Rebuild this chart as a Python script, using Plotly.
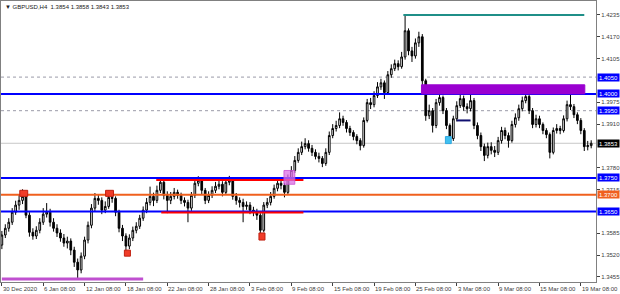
import plotly.graph_objects as go

# ---------------- data (GBPUSD H4, two H4 bars per candle) ----------------
first_open = 1.3550
closes = [
 1.3580,1.3600,1.3618,1.3648,1.3669,1.3683,1.3695,1.3639,1.3588,1.3577,
 1.3594,1.3618,1.3642,1.3648,1.3618,1.3600,1.3586,1.3571,1.3556,1.3562,
 1.3535,1.3499,1.3476,1.3517,1.3565,1.3609,1.3660,1.3689,1.3683,1.3654,
 1.3665,1.3692,1.3689,1.3648,1.3600,1.3577,1.3547,1.3571,1.3594,1.3606,
 1.3630,1.3654,1.3677,1.3695,1.3683,1.3713,1.3737,1.3698,1.3683,1.3695,
 1.3707,1.3698,1.3683,1.3677,1.3660,1.3698,1.3734,1.3743,1.3713,1.3683,
 1.3698,1.3713,1.3725,1.3731,1.3707,1.3737,1.3743,1.3695,1.3683,1.3677,
 1.3665,1.3669,1.3654,1.3648,1.3639,1.3594,1.3669,1.3677,1.3695,1.3719,
 1.3734,1.3728,1.3707,1.3749,1.3772,1.3802,1.3826,1.3843,1.3852,1.3838,
 1.3826,1.3814,1.3808,1.3793,1.3826,1.3876,1.3897,1.3906,1.3926,1.3915,
 1.3897,1.3885,1.3873,1.3861,1.3846,1.3921,1.3974,1.3968,1.3995,1.4021,
 1.4033,1.4004,1.4057,1.4075,1.4090,1.4081,1.4110,1.4188,1.4128,1.4113,
 1.4152,1.4170,1.4039,1.3935,1.3950,1.3906,1.3974,1.3989,1.3950,1.3906,
 1.3867,1.3926,1.3965,1.3986,1.3962,1.3956,1.3980,1.3906,1.3876,1.3843,
 1.3817,1.3843,1.3832,1.3826,1.3861,1.3891,1.3876,1.3861,1.3909,1.3929,
 1.3956,1.3980,1.3992,1.3950,1.3909,1.3926,1.3909,1.3891,1.3879,1.3826,
 1.3891,1.3897,1.3891,1.3926,1.3968,1.3962,1.3938,1.3921,1.3891,1.3843,
 1.3846,1.3853]
highs = [
 1.3592,1.3612,1.3630,1.3660,1.3682,1.3700,1.3716,1.3705,1.3648,1.3600,
 1.3606,1.3630,1.3660,1.3675,1.3658,1.3630,1.3612,1.3597,1.3583,1.3575,
 1.3570,1.3545,1.3510,1.3528,1.3575,1.3620,1.3672,1.3705,1.3700,1.3692,
 1.3680,1.3712,1.3706,1.3695,1.3655,1.3610,1.3585,1.3582,1.3605,1.3618,
 1.3640,1.3665,1.3690,1.3724,1.3706,1.3727,1.3752,1.3745,1.3710,1.3708,
 1.3720,1.3715,1.3706,1.3692,1.3685,1.3708,1.3745,1.3755,1.3750,1.3720,
 1.3710,1.3725,1.3738,1.3745,1.3740,1.3748,1.3756,1.3750,1.3705,1.3692,
 1.3688,1.3680,1.3678,1.3664,1.3658,1.3645,1.3678,1.3690,1.3708,1.3730,
 1.3745,1.3744,1.3735,1.3760,1.3785,1.3815,1.3838,1.3858,1.3868,1.3862,
 1.3848,1.3835,1.3825,1.3815,1.3838,1.3888,1.3910,1.3920,1.3945,1.3935,
 1.3922,1.3905,1.3892,1.3880,1.3868,1.3930,1.3985,1.3988,1.4008,1.4035,
 1.4045,1.4040,1.4068,1.4088,1.4102,1.4100,1.4125,1.4237,1.4195,1.4140,
 1.4165,1.4185,1.4178,1.4045,1.3968,1.3958,1.3985,1.4004,1.3995,1.3958,
 1.3912,1.3935,1.3978,1.3998,1.3995,1.3972,1.4022,1.3988,1.3915,1.3885,
 1.3852,1.3855,1.3856,1.3845,1.3872,1.3902,1.3900,1.3885,1.3920,1.3942,
 1.3968,1.3992,1.4005,1.3998,1.3958,1.3938,1.3935,1.3915,1.3898,1.3885,
 1.3900,1.3910,1.3905,1.3936,1.3980,1.4010,1.3970,1.3945,1.3928,1.3898,
 1.3860,1.3862]
lows = [
 1.3538,1.3571,1.3590,1.3610,1.3640,1.3655,1.3672,1.3630,1.3575,1.3566,
 1.3568,1.3585,1.3610,1.3632,1.3605,1.3590,1.3574,1.3560,1.3545,1.3540,
 1.3520,1.3485,1.3452,1.3466,1.3508,1.3555,1.3600,1.3650,1.3670,1.3642,
 1.3645,1.3658,1.3676,1.3636,1.3588,1.3562,1.3526,1.3538,1.3562,1.3585,
 1.3598,1.3622,1.3645,1.3668,1.3666,1.3675,1.3705,1.3686,1.3645,1.3672,
 1.3686,1.3688,1.3672,1.3665,1.3618,1.3652,1.3690,1.3725,1.3702,1.3672,
 1.3675,1.3690,1.3705,1.3716,1.3695,1.3700,1.3728,1.3685,1.3670,1.3662,
 1.3618,1.3655,1.3642,1.3636,1.3625,1.3572,1.3588,1.3660,1.3668,1.3688,
 1.3710,1.3716,1.3692,1.3700,1.3742,1.3765,1.3795,1.3818,1.3835,1.3828,
 1.3815,1.3805,1.3796,1.3782,1.3786,1.3818,1.3868,1.3888,1.3898,1.3905,
 1.3885,1.3875,1.3862,1.3850,1.3832,1.3840,1.3915,1.3955,1.3960,1.3988,
 1.4012,1.3985,1.3998,1.4048,1.4068,1.4070,1.4075,1.4102,1.4115,1.4095,
 1.4105,1.4140,1.4025,1.3920,1.3925,1.3885,1.3898,1.3965,1.3940,1.3895,
 1.3852,1.3860,1.3918,1.3958,1.3950,1.3942,1.3948,1.3895,1.3865,1.3830,
 1.3800,1.3808,1.3820,1.3812,1.3818,1.3852,1.3865,1.3840,1.3855,1.3900,
 1.3920,1.3948,1.3972,1.3940,1.3898,1.3900,1.3898,1.3880,1.3868,1.3808,
 1.3820,1.3882,1.3880,1.3885,1.3918,1.3952,1.3928,1.3910,1.3880,1.3830,
 1.3832,1.3838]
opens = [first_open] + closes[:-1]
bar_index = [2 * k for k in range(len(closes))]   # position in H4 bars

date_tick_index = [0, 24, 48, 72, 96, 120, 144, 168, 192, 216, 240, 264, 288, 312, 336]
date_tick_text = ["30 Dec 2020", "6 Jan 08:00", "12 Jan 08:00", "18 Jan 08:00",
                  "22 Jan 08:00", "28 Jan 08:00", "3 Feb 08:00", "9 Feb 08:00",
                  "15 Feb 08:00", "19 Feb 08:00", "25 Feb 08:00", "3 Mar 08:00",
                  "9 Mar 08:00", "15 Mar 08:00", "19 Mar 08:00"]
price_ticks = [1.4235, 1.4170, 1.4105, 1.3975, 1.3910, 1.3780, 1.3715, 1.3585, 1.3520, 1.3455]

# level lines (price) that span the whole chart, with their colour role
full_levels = [1.4050, 1.4000, 1.3950, 1.3853, 1.3750, 1.3700, 1.3650]
level_kind = ["dot", "blue", "dot", "bid", "blue", "orange", "blue"]
# partial segments
seg_start = [233, 89.6, 92.5, 264, 0]
seg_end = [338, 175, 175, 272, 82]
seg_price = [1.4235, 1.3744, 1.3647, 1.3921, 1.3449]
seg_kind = ["teal", "red", "red", "navy", "violet"]
# rectangles
box_x0 = [243.5, 10.4, 60.2, 71.1, 149.2, 163.7, 257.4]
box_x1 = [338.3, 15.0, 64.8, 74.6, 152.7, 170.0, 260.8]
box_y0 = [1.4000, 1.3695, 1.3695, 1.3517, 1.3565, 1.3731, 1.3852]
box_y1 = [1.4027, 1.3713, 1.3713, 1.3535, 1.3586, 1.3772, 1.3873]
box_kind = ["purple", "red", "red", "red", "red", "pink", "cyan"]

title_text = "GBPUSD,H4  1.3854 1.3858 1.3843 1.3853"

# ---------------- styles ----------------
line_style = {
    "dot": dict(color="#9a9aa8", width=1, dash="dot"),
    "blue": dict(color="#0000ff", width=2),
    "bid": dict(color="#c8c8c8", width=1),
    "orange": dict(color="#f0601e", width=2),
    "teal": dict(color="#1f8f88", width=2),
    "red": dict(color="#ff0000", width=2),
    "navy": dict(color="#101070", width=2),
    "violet": dict(color="#c050d0", width=3),
}
box_style = {
    "purple": dict(fill="#9a00d0", line="#9a00d0"),
    "red": dict(fill="#f03c28", line="#c02010"),
    "pink": dict(fill="rgba(220,110,230,0.75)", line="rgba(200,80,210,0.8)"),
    "cyan": dict(fill="#40c0f0", line="#30a8e0"),
}
label_bg = {"dot": "#0000ff", "blue": "#0000ff", "bid": "#000000", "orange": "#f0601e"}

FONT = "Liberation Sans, Arial, sans-serif"

fig = go.Figure()
fig.add_trace(go.Candlestick(
    x=bar_index, open=opens, high=highs, low=lows, close=closes,
    increasing=dict(line=dict(color="#000000", width=1), fillcolor="#ffffff"),
    decreasing=dict(line=dict(color="#000000", width=1), fillcolor="#000000"),
    whiskerwidth=0, showlegend=False, hoverinfo="skip",
))

shapes = []
for p, kd in zip(full_levels, level_kind):
    shapes.append(dict(type="line", xref="paper", x0=0, x1=1, yref="y", y0=p, y1=p,
                       line=line_style[kd], layer="below" if kd in ("dot", "bid") else "above"))
for x0, x1, p, kd in zip(seg_start, seg_end, seg_price, seg_kind):
    shapes.append(dict(type="line", xref="x", x0=x0, x1=x1, yref="y", y0=p, y1=p,
                       line=line_style[kd], layer="above"))
for x0, x1, y0, y1, kd in zip(box_x0, box_x1, box_y0, box_y1, box_kind):
    st = box_style[kd]
    shapes.append(dict(type="rect", xref="x", x0=x0, x1=x1, yref="y", y0=y0, y1=y1,
                       fillcolor=st["fill"], line=dict(color=st["line"], width=1), layer="above"))

annotations = []
for p, kd in zip(full_levels, level_kind):
    annotations.append(dict(xref="paper", x=1, xanchor="left", xshift=1, yref="y", y=p,
                            yanchor="middle", text="%.4f" % p, showarrow=False,
                            bgcolor=label_bg[kd], width=21, height=7, borderpad=0,
                            font=dict(family=FONT, size=6, color="#ffffff")))
for i, t in zip(date_tick_index, date_tick_text):
    annotations.append(dict(xref="x", x=i, xanchor="left", xshift=-1, yref="paper", y=0,
                            yanchor="top", yshift=-2, text=t, showarrow=False,
                            font=dict(family=FONT, size=6, color="#404040")))
annotations.append(dict(xref="paper", x=0, xanchor="left", xshift=2, yref="paper", y=1,
                        yanchor="top", yshift=-1, text="\u25bc " + title_text, showarrow=False,
                        font=dict(family=FONT, size=6, color="#202020")))

fig.update_layout(
    width=620, height=294,
    margin=dict(l=0, r=23, t=0, b=12),
    paper_bgcolor="#ffffff", plot_bgcolor="#ffffff",
    shapes=shapes, annotations=annotations,
    xaxis=dict(range=[-0.5, 344.8], showgrid=False, zeroline=False,
               rangeslider=dict(visible=False),
               tickvals=date_tick_index, showticklabels=False,
               ticks="outside", ticklen=3, tickcolor="#404040",
               showline=True, linecolor="#808080", linewidth=1, mirror=True),
    yaxis=dict(range=[1.34401, 1.42765], side="right", showgrid=False, zeroline=False,
               tickvals=price_ticks, ticktext=["%.4f" % v for v in price_ticks],
               ticks="outside", ticklen=3, tickcolor="#404040",
               tickfont=dict(family=FONT, size=6, color="#404040"),
               showline=True, linecolor="#808080", linewidth=1, mirror=True),
)

fig.write_html("out.html")
